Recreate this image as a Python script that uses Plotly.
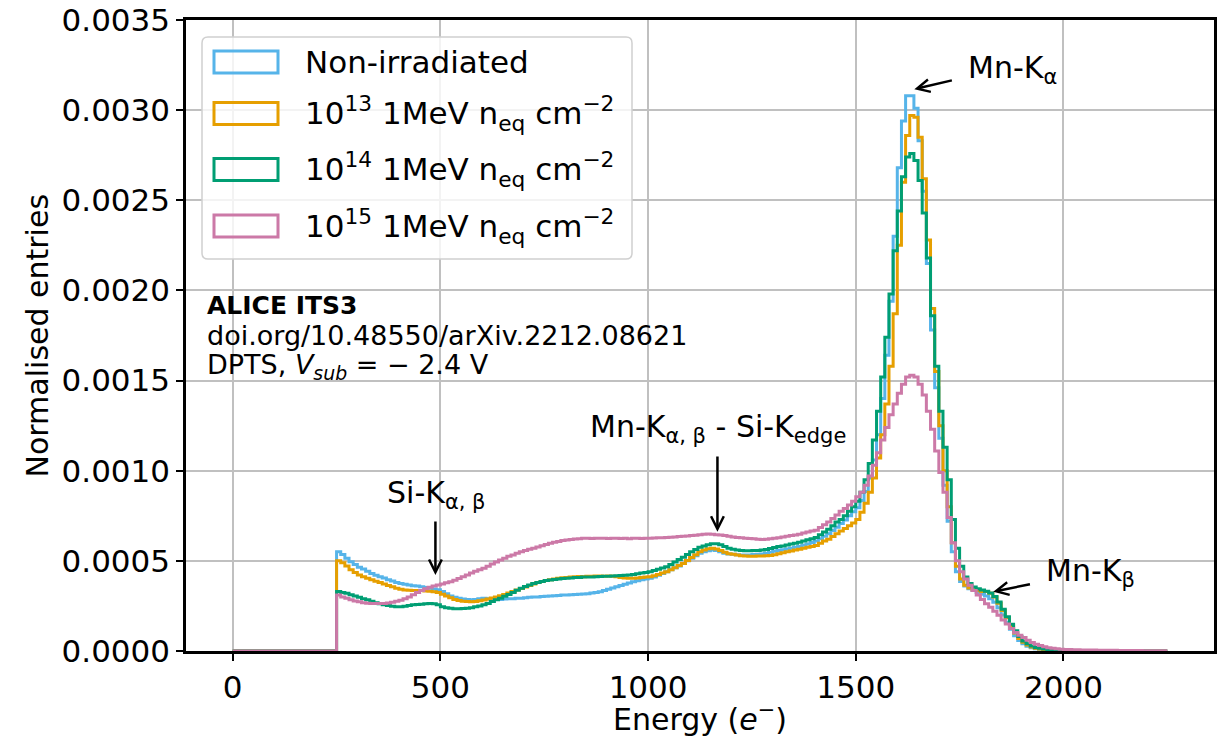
import numpy as np
import plotly.graph_objects as go

#########################################################################
# data: step histograms, 10 e- bins from 0 to 2250, values in units of 1e-4

bin_edges = np.arange(0, 2251, 10)

no_signal = [0, 0, 0, 0, 0, 0, 0, 0, 0, 0, 0, 0, 0, 0, 0, 0, 0, 0, 0, 0, 0, 0, 0, 0, 0]

non_irr = [
    5.50, 5.35, 5.15, 4.95, 4.80, 4.65, 4.55, 4.42, 4.30, 4.20,   # 250
    4.12, 4.05, 3.95, 3.88, 3.80, 3.75, 3.70, 3.66, 3.62, 3.60,   # 350
    3.56, 3.52, 3.48, 3.44, 3.40, 3.30, 3.18, 3.05, 2.98, 2.92,   # 450
    2.88, 2.85, 2.84, 2.86, 2.90, 2.92, 2.90, 2.88, 2.87, 2.86,   # 550
    2.88, 2.90, 2.90, 2.92, 2.93, 2.96, 2.98, 3.00, 3.00, 3.02,   # 650
    3.04, 3.05, 3.06, 3.08, 3.10, 3.10, 3.12, 3.13, 3.15, 3.16,   # 750
    3.18, 3.22, 3.25, 3.29, 3.35, 3.42, 3.50, 3.57, 3.64, 3.70,   # 850
    3.77, 3.84, 3.90, 3.95, 4.00, 4.03, 4.10, 4.20, 4.30, 4.40,   # 950
    4.50, 4.62, 4.72, 4.86, 5.00, 5.15, 5.28, 5.42, 5.50, 5.56,   # 1050
    5.60, 5.58, 5.50, 5.42, 5.38, 5.36, 5.34, 5.32, 5.32, 5.33,   # 1150
    5.35, 5.36, 5.38, 5.42, 5.48, 5.53, 5.58, 5.62, 5.66, 5.70,   # 1250
    5.75, 5.80, 5.86, 5.93, 6.02, 6.10, 6.22, 6.36, 6.50, 6.68,   # 1350
    6.87, 7.07, 7.27, 7.50, 7.72, 7.95, 8.35, 8.85, 9.60, 10.6,   # 1450
    12.0, 14.0, 16.4, 19.4, 23.0, 26.8, 29.4, 30.8, 30.8, 30.1,   # 1550
    28.3, 25.5, 21.5, 17.8, 14.6, 11.8, 9.20, 7.20, 5.50, 4.40,   # 1650
    3.85, 3.60, 3.45, 3.35, 3.25, 3.15, 3.05, 2.90, 2.70, 2.40,   # 1750
    2.00, 1.60, 1.20, 0.85, 0.58, 0.40, 0.27, 0.18, 0.13, 0.10,   # 1850
    0.08, 0.06, 0.05, 0.04, 0.035, 0.03, 0.025, 0.02, 0.02, 0.015,  # 1950
    0.015, 0.01, 0.01, 0.01, 0.008, 0.008, 0.006, 0.006, 0.005, 0.005,  # 2050
    0.004, 0.004, 0.003, 0.003, 0.003, 0.002, 0.002, 0.002, 0.002, 0.001,  # 2150
]

irr_1e13 = [
    5.00, 4.90, 4.72, 4.50, 4.35, 4.22, 4.12, 4.03, 3.95, 3.87,
    3.80, 3.72, 3.64, 3.56, 3.48, 3.42, 3.38, 3.37, 3.36, 3.36,
    3.35, 3.33, 3.31, 3.29, 3.24, 3.15, 3.05, 2.95, 2.86, 2.80,
    2.76, 2.74, 2.73, 2.75, 2.79, 2.83, 2.88, 2.94, 3.00, 3.06,
    3.14, 3.22, 3.30, 3.38, 3.46, 3.55, 3.63, 3.72, 3.80, 3.86,
    3.91, 3.95, 4.00, 4.03, 4.06, 4.08, 4.10, 4.12, 4.13, 4.12,
    4.14, 4.15, 4.16, 4.16, 4.15, 4.16, 4.15, 4.12, 4.08, 4.05,
    4.03, 4.03, 4.05, 4.08, 4.10, 4.12, 4.18, 4.25, 4.32, 4.40,
    4.50, 4.62, 4.74, 4.86, 5.02, 5.18, 5.34, 5.50, 5.60, 5.67,
    5.70, 5.66, 5.58, 5.48, 5.40, 5.36, 5.32, 5.29, 5.27, 5.26,
    5.26, 5.27, 5.27, 5.28, 5.30, 5.34, 5.40, 5.45, 5.50, 5.55,
    5.60, 5.65, 5.70, 5.75, 5.80, 5.85, 5.98, 6.10, 6.20, 6.35,
    6.50, 6.65, 6.80, 6.95, 7.10, 7.30, 7.70, 8.20, 8.80, 9.60,
    10.7, 12.0, 13.7, 15.8, 18.7, 22.5, 26.0, 28.6, 29.7, 29.6,
    28.5, 26.2, 22.8, 19.0, 15.5, 12.5, 10.0, 8.00, 6.00, 4.70,
    4.00, 3.65, 3.50, 3.40, 3.35, 3.30, 3.30, 3.20, 3.00, 2.65,
    2.25, 1.85, 1.40, 1.00, 0.70, 0.48, 0.33, 0.22, 0.15, 0.11,
    0.08, 0.06, 0.05, 0.04, 0.035, 0.03, 0.025, 0.02, 0.02, 0.015,
    0.015, 0.012, 0.01, 0.01, 0.008, 0.008, 0.006, 0.006, 0.005, 0.005,
    0.004, 0.004, 0.003, 0.003, 0.003, 0.002, 0.002, 0.002, 0.002, 0.001,
]

irr_1e14 = [
    3.30, 3.25, 3.20, 3.12, 3.05, 2.98, 2.90, 2.84, 2.76, 2.68,
    2.62, 2.56, 2.52, 2.48, 2.46, 2.46, 2.48, 2.52, 2.56, 2.58,
    2.60, 2.62, 2.64, 2.62, 2.56, 2.46, 2.40, 2.37, 2.35, 2.35,
    2.36, 2.37, 2.40, 2.45, 2.50, 2.56, 2.64, 2.74, 2.84, 2.93,
    3.03, 3.14, 3.25, 3.37, 3.48, 3.58, 3.66, 3.74, 3.80, 3.86,
    3.91, 3.94, 3.97, 4.00, 4.02, 4.04, 4.05, 4.07, 4.08, 4.10,
    4.10, 4.11, 4.12, 4.13, 4.14, 4.15, 4.16, 4.18, 4.19, 4.20,
    4.22, 4.25, 4.28, 4.32, 4.36, 4.40, 4.46, 4.53, 4.60, 4.68,
    4.80, 4.93, 5.07, 5.20, 5.35, 5.50, 5.63, 5.75, 5.83, 5.90,
    5.95, 5.95, 5.90, 5.80, 5.70, 5.64, 5.60, 5.57, 5.56, 5.56,
    5.57, 5.58, 5.60, 5.63, 5.68, 5.74, 5.79, 5.83, 5.88, 5.93,
    5.97, 6.03, 6.10, 6.17, 6.23, 6.30, 6.45, 6.60, 6.75, 6.95,
    7.15, 7.30, 7.50, 7.75, 8.00, 8.30, 8.80, 9.50, 10.4, 11.7,
    13.3, 15.2, 17.4, 19.8, 22.2, 24.4, 26.3, 27.4, 27.6, 27.2,
    26.1, 24.3, 21.8, 18.6, 15.8, 13.3, 11.3, 9.50, 7.30, 5.70,
    4.70, 4.10, 3.75, 3.55, 3.45, 3.38, 3.32, 3.22, 3.02, 2.72,
    2.32, 1.90, 1.48, 1.12, 0.80, 0.56, 0.40, 0.28, 0.20, 0.15,
    0.11, 0.09, 0.07, 0.06, 0.05, 0.04, 0.035, 0.03, 0.025, 0.02,
    0.02, 0.015, 0.012, 0.01, 0.01, 0.008, 0.008, 0.006, 0.005, 0.005,
    0.004, 0.004, 0.003, 0.003, 0.003, 0.002, 0.002, 0.002, 0.002, 0.001,
]

irr_1e15 = [
    3.10, 3.00, 2.92, 2.84, 2.78, 2.73, 2.68, 2.65, 2.64, 2.63,
    2.63, 2.64, 2.66, 2.70, 2.76, 2.82, 2.90, 3.00, 3.12, 3.25,
    3.35, 3.45, 3.53, 3.60, 3.66, 3.72, 3.78, 3.84, 3.93, 4.02,
    4.12, 4.22, 4.32, 4.42, 4.50, 4.59, 4.70, 4.82, 4.93, 5.05,
    5.15, 5.25, 5.33, 5.42, 5.50, 5.57, 5.64, 5.70, 5.77, 5.84,
    5.91, 5.97, 6.03, 6.08, 6.13, 6.16, 6.19, 6.21, 6.23, 6.25,
    6.25, 6.24, 6.25, 6.26, 6.25, 6.24, 6.25, 6.26, 6.24, 6.25,
    6.23, 6.25, 6.26, 6.24, 6.25, 6.25, 6.27, 6.28, 6.28, 6.30,
    6.31, 6.33, 6.35, 6.37, 6.38, 6.40, 6.42, 6.45, 6.47, 6.49,
    6.48, 6.45, 6.43, 6.40, 6.36, 6.32, 6.30, 6.28, 6.25, 6.24,
    6.22, 6.20, 6.19, 6.20, 6.22, 6.25, 6.28, 6.32, 6.36, 6.40,
    6.43, 6.48, 6.54, 6.60, 6.66, 6.70, 6.85, 7.00, 7.15, 7.35,
    7.55, 7.75, 7.90, 8.10, 8.30, 8.55, 8.80, 9.20, 9.70, 10.3,
    11.0, 11.7, 12.4, 13.1, 13.7, 14.3, 14.8, 15.2, 15.3, 15.2,
    14.8, 14.2, 13.3, 12.3, 11.1, 9.90, 8.80, 7.40, 6.00, 5.00,
    4.40, 4.00, 3.65, 3.35, 3.10, 2.85, 2.62, 2.42, 2.20, 1.98,
    1.72, 1.50, 1.25, 1.02, 0.88, 0.75, 0.60, 0.47, 0.37, 0.30,
    0.23, 0.18, 0.15, 0.12, 0.10, 0.09, 0.08, 0.07, 0.065, 0.06,
    0.055, 0.05, 0.05, 0.045, 0.04, 0.04, 0.035, 0.035, 0.03, 0.03,
    0.03, 0.025, 0.025, 0.025, 0.02, 0.02, 0.02, 0.02, 0.02, 0.02,
]

labels = [
    "Non-irradiated",
    "10<sup>13</sup> 1MeV n<sub>eq</sub> cm<sup>−2</sup>",
    "10<sup>14</sup> 1MeV n<sub>eq</sub> cm<sup>−2</sup>",
    "10<sup>15</sup> 1MeV n<sub>eq</sub> cm<sup>−2</sup>",
]
colors = ["#56B4E9", "#E69F00", "#009E73", "#CC79A7"]
series = [non_irr, irr_1e13, irr_1e14, irr_1e15]

x_ticks = [0, 500, 1000, 1500, 2000]
y_ticks = [0, 0.0005, 0.0010, 0.0015, 0.0020, 0.0025, 0.0030, 0.0035]

FONT = "DejaVu Sans"

# page has an 8px body margin, so the figure is drawn 8px in from the corner
OFF = 8
W, H = 1225 - OFF, 736 - OFF
# plot area in screen pixels (for placing text/legend like the original)
L, R, T, B = 186, 1214, 20, 651


def pxx(p):
    return (p - L) / (R - L)


def pxy(p):
    return (B - p) / (B - T)


#########################################################################
# figure

fig = go.Figure()

for vals, col, lab in zip(series, colors, labels):
    y = np.array(no_signal + vals) * 1e-4
    fig.add_trace(go.Scatter(x=bin_edges, y=np.append(y, y[-1]),
                             mode='lines', line_shape='hv',
                             line=dict(color=col, width=3),
                             name=lab, showlegend=False))

fig.update_xaxes(range=[-112.5, 2362.5], tickvals=x_ticks, automargin=False,
                 showgrid=True, gridcolor='#c0c0c0', gridwidth=1.6,
                 showline=True, linecolor='black', linewidth=2.5, mirror=True,
                 ticks='outside', ticklen=7, tickwidth=2, tickcolor='black',
                 zeroline=False, tickfont=dict(size=31), ticklabeloverflow='allow')
fig.update_yaxes(range=[0, 0.0035 + 1e-9], tickvals=y_ticks, tickformat='.4f',
                 automargin=False,
                 showgrid=True, gridcolor='#c0c0c0', gridwidth=1.6,
                 showline=True, linecolor='black', linewidth=2.5, mirror=True,
                 ticks='outside', ticklen=7, tickwidth=2, tickcolor='black',
                 zeroline=False, tickfont=dict(size=31), ticklabeloverflow='allow')

# legend drawn by hand (matplotlib style: rectangles as handles)
lx0, lx1, ly0, ly1, r = 202, 632, 37, 259, 6
path = (f"M{pxx(lx0 + r)},{pxy(ly0)} L{pxx(lx1 - r)},{pxy(ly0)} "
        f"Q{pxx(lx1)},{pxy(ly0)} {pxx(lx1)},{pxy(ly0 + r)} "
        f"L{pxx(lx1)},{pxy(ly1 - r)} Q{pxx(lx1)},{pxy(ly1)} {pxx(lx1 - r)},{pxy(ly1)} "
        f"L{pxx(lx0 + r)},{pxy(ly1)} Q{pxx(lx0)},{pxy(ly1)} {pxx(lx0)},{pxy(ly1 - r)} "
        f"L{pxx(lx0)},{pxy(ly0 + r)} Q{pxx(lx0)},{pxy(ly0)} {pxx(lx0 + r)},{pxy(ly0)} Z")
fig.add_shape(type='path', path=path, xref='paper', yref='paper',
              fillcolor='rgba(255,255,255,0.8)', line=dict(color='#d0d0d0', width=1.5))

row_y = [62, 113.5, 169.5, 226]
for yc, col, lab in zip(row_y, colors, labels):
    fig.add_shape(type='rect', xref='paper', yref='paper',
                  x0=pxx(214), x1=pxx(278), y0=pxy(yc - 11), y1=pxy(yc + 11),
                  line=dict(color=col, width=3), fillcolor='rgba(0,0,0,0)')
    fig.add_annotation(x=pxx(303), y=pxy(yc), xref='paper', yref='paper',
                       text=lab, showarrow=False, xanchor='left', yanchor='middle',
                       font=dict(size=31))

# ALICE label
info = [("<b>ALICE ITS3</b>", 305, 25),
        ("doi.org/10.48550/arXiv.2212.08621", 335, 27),
        ("DPTS, <i>V<sub>sub</sub></i> = − 2.4 V", 366, 27)]
for txt, yc, fs in info:
    fig.add_annotation(x=pxx(205), y=pxy(yc), xref='paper', yref='paper',
                       text=txt, showarrow=False, xanchor='left', yanchor='middle',
                       font=dict(size=fs))

# peak annotations: arrows (tip, tail) in data coords
arrows = [((1641, 0.003116), (1735, 0.003167)),
          ((1831, 0.000329), (1923, 0.000372)),
          ((488, 0.000422), (488, 0.000727)),
          ((1167, 0.000662), (1167, 0.001087))]
for (x, y), (ax, ay) in arrows:
    fig.add_annotation(x=x, y=y, ax=ax, ay=ay, xref='x', yref='y',
                       axref='x', ayref='y', text='', showarrow=True,
                       arrowhead=5, arrowsize=1, arrowwidth=2.5, arrowcolor='black',
                       standoff=0, startstandoff=0)

peak_text = [("Mn-K<sub>α</sub>", 966, 70, 'left'),
             ("Mn-K<sub>β</sub>", 1044, 572, 'left'),
             ("Si-K<sub>α, β</sub>", 436, 494, 'center'),
             ("Mn-K<sub>α, β</sub> - Si-K<sub>edge</sub>", 718, 428, 'center')]
for txt, xp, yp, anc in peak_text:
    fig.add_annotation(x=pxx(xp), y=pxy(yp), xref='paper', yref='paper',
                       text=txt, showarrow=False, xanchor=anc, yanchor='middle',
                       font=dict(size=30))

# axis titles
fig.add_annotation(x=pxx(37), y=0.5, xref='paper', yref='paper',
                   text="Normalised entries", textangle=-90, showarrow=False,
                   xanchor='center', yanchor='middle', font=dict(size=30))
fig.add_annotation(x=0.5, y=pxy(717), xref='paper', yref='paper',
                   text="Energy (<i>e</i><sup>−</sup>)", showarrow=False,
                   xanchor='center', yanchor='middle', font=dict(size=30))

fig.update_layout(width=W, height=H,
                  margin=dict(l=L - OFF, r=W + OFF - R, t=T - OFF, b=H + OFF - B,
                              autoexpand=False),
                  plot_bgcolor='white', paper_bgcolor='white',
                  font=dict(family=FONT, size=30, color='black'),
                  showlegend=False)

fig.write_html("out.html")
